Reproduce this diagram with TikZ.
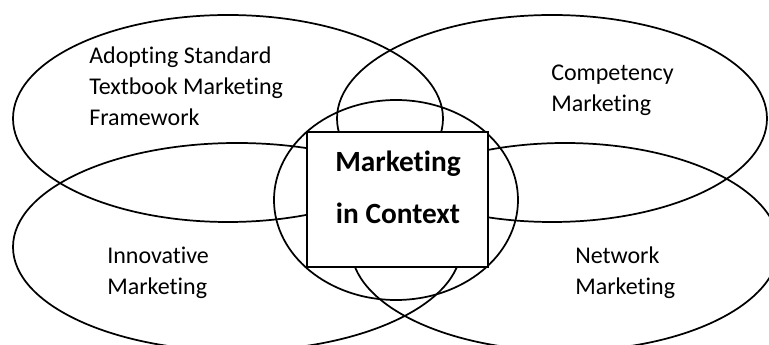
\documentclass[tikz,border=0pt]{standalone}
\usepackage{fontspec}
\setmainfont{Carlito}[Ligatures=NoCommon]
\usetikzlibrary{shapes.geometric}
\begin{document}
\begin{tikzpicture}[x=0.75pt,y=-0.75pt,
  oval/.style={draw, line width=1.3pt, ellipse, inner sep=0pt},
  lbl/.style={align=left, inner sep=0pt, anchor=base west, font=\fontsize{18}{23.3}\selectfont},
  ctxbox/.style={draw, line width=1.3pt, fill=white, rectangle, inner sep=0pt},
  ctxtext/.style={align=center, inner sep=0pt, anchor=base, font=\fontsize{22}{39}\selectfont\bfseries}
]
\clip (0,0) rectangle (769,345);
\node[oval, minimum width=322.5pt, minimum height=155.25pt] (tl) at (228,118.5) {};
\node[oval, minimum width=322.5pt, minimum height=155.25pt] (tr) at (552,118.5) {};
\node[oval, minimum width=336pt, minimum height=156pt] (bl) at (237,247) {};
\node[oval, minimum width=321pt, minimum height=156pt] (br) at (565,247) {};
\node[oval, minimum width=183pt, minimum height=150pt] (mid) at (396,200) {};
\node[ctxbox, minimum width=135.75pt, minimum height=101.25pt] (box) at (397.5,199.5) {};
\node[ctxtext] (ctx) at (398,224) {Marketing\\in Context};
\node[lbl] (adopt) at (89,126) {Adopting Standard\\Textbook Marketing\\Framework};
\node[lbl] (comp) at (551,112) {Competency\\Marketing};
\node[lbl] (innov) at (107,295) {Innovative\\Marketing};
\node[lbl] (net) at (575,295) {Network\\Marketing};
\end{tikzpicture}
\end{document}
